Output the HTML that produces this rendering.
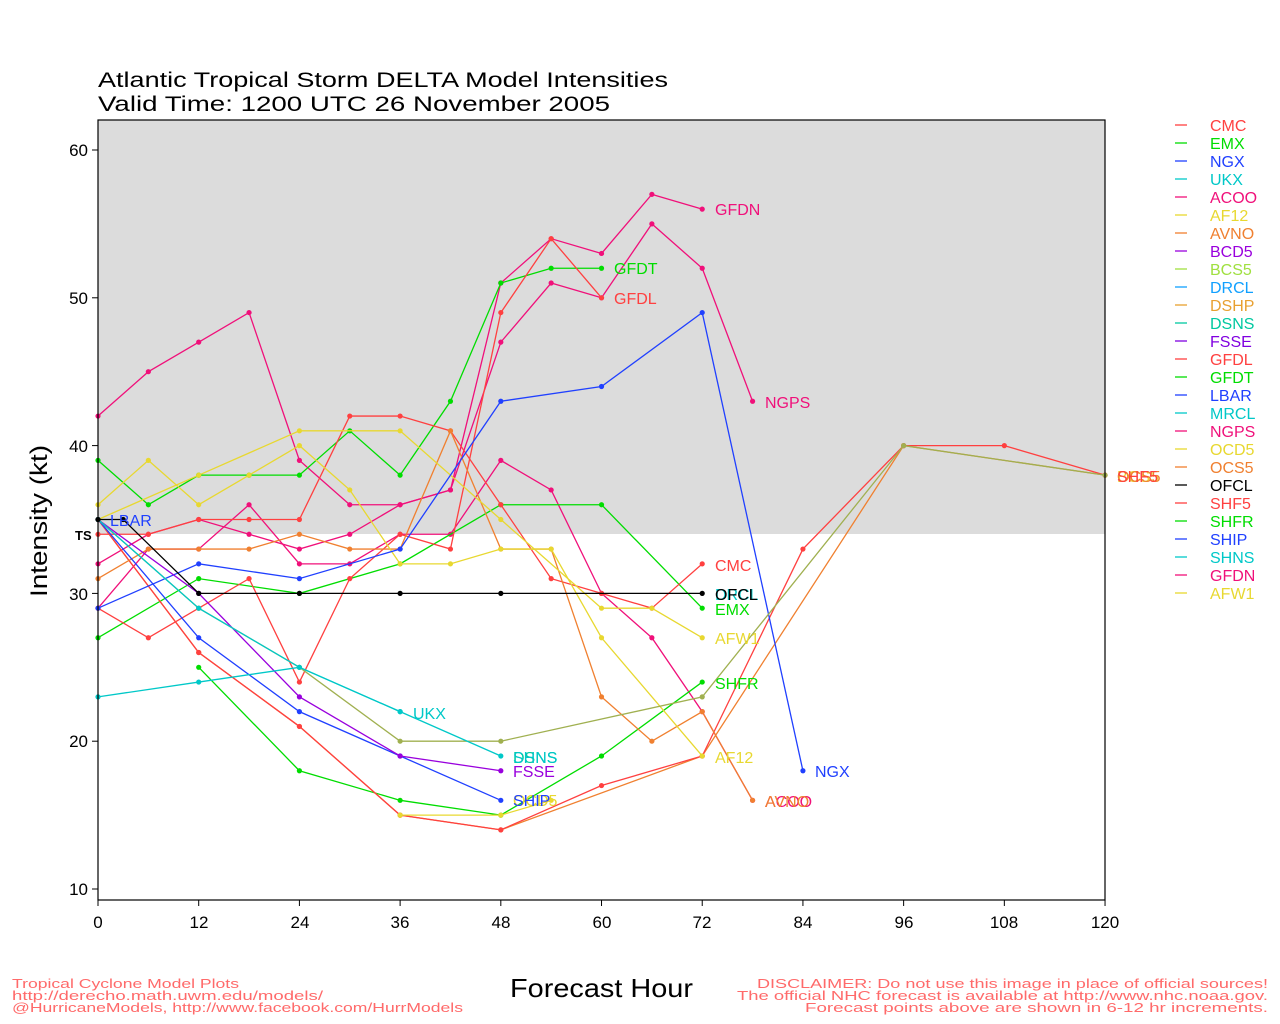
<!DOCTYPE html>
<html><head><meta charset="utf-8"><style>
html,body{margin:0;padding:0;background:#fff;}
svg{display:block;font-family:"Liberation Sans",sans-serif;}
</style></head><body>
<svg id="s" width="1280" height="1024" viewBox="0 0 1280 1024" xmlns="http://www.w3.org/2000/svg">
<rect width="1280" height="1024" fill="#fff"/>
<rect x="98" y="120" width="1007" height="414" fill="#dcdcdc"/>
<text x="98" y="87" font-size="21" fill="#000" textLength="570" lengthAdjust="spacingAndGlyphs">Atlantic Tropical Storm DELTA Model Intensities</text>
<text x="98" y="111" font-size="21" fill="#000" textLength="512" lengthAdjust="spacingAndGlyphs">Valid Time: 1200 UTC 26 November 2005</text>
<g id="ax" font-size="17" fill="#000">
<text x="88" y="156" text-anchor="end">60</text>
<text x="88" y="304" text-anchor="end">50</text>
<text x="88" y="452" text-anchor="end">40</text>
<text x="88" y="600" text-anchor="end">30</text>
<text x="88" y="747" text-anchor="end">20</text>
<text x="88" y="895" text-anchor="end">10</text>
<text x="75" y="540" font-size="13" font-weight="bold">TS</text>
<text x="98" y="928" text-anchor="middle">0</text>
<text x="199" y="928" text-anchor="middle">12</text>
<text x="300" y="928" text-anchor="middle">24</text>
<text x="400" y="928" text-anchor="middle">36</text>
<text x="501" y="928" text-anchor="middle">48</text>
<text x="602" y="928" text-anchor="middle">60</text>
<text x="702" y="928" text-anchor="middle">72</text>
<text x="803" y="928" text-anchor="middle">84</text>
<text x="904" y="928" text-anchor="middle">96</text>
<text x="1004" y="928" text-anchor="middle">108</text>
<text x="1105" y="928" text-anchor="middle">120</text>
</g>
<text x="510" y="997" font-size="26" textLength="183" lengthAdjust="spacingAndGlyphs">Forecast Hour</text>
<text transform="translate(47,597) rotate(-90)" font-size="24" textLength="152" lengthAdjust="spacingAndGlyphs">Intensity (kt)</text>
<g font-size="13" fill="#ff6a6a">
<text x="12" y="988" textLength="227" lengthAdjust="spacingAndGlyphs">Tropical Cyclone Model Plots</text>
<text x="12" y="1000" textLength="311" lengthAdjust="spacingAndGlyphs">http://derecho.math.uwm.edu/models/</text>
<text x="12" y="1012" textLength="451" lengthAdjust="spacingAndGlyphs">@HurricaneModels, http://www.facebook.com/HurrModels</text>
<text x="757" y="988" textLength="511" lengthAdjust="spacingAndGlyphs">DISCLAIMER: Do not use this image in place of official sources!</text>
<text x="737" y="1000" textLength="531" lengthAdjust="spacingAndGlyphs">The official NHC forecast is available at http://www.nhc.noaa.gov.</text>
<text x="805" y="1012" textLength="463" lengthAdjust="spacingAndGlyphs">Forecast points above are shown in 6-12 hr increments.</text>
</g>
<g id="lines"></g>
<rect x="98" y="120" width="1007" height="780" fill="none" stroke="#000" stroke-width="1.2"/>
<g id="yt" stroke="#000"></g>
<g font-size="16">
<text x="715" y="215" fill="#f0107a">GFDN</text>
<text x="614" y="274" fill="#00dd00">GFDT</text>
<text x="614" y="304" fill="#ff4040">GFDL</text>
<text x="765" y="408" fill="#f0107a">NGPS</text>
<text x="715" y="571" fill="#ff4040">CMC</text>
<text x="715" y="600" fill="#00c8c8">DRCL</text>
<text x="715" y="600" fill="#000">OFCL</text>
<text x="715" y="615" fill="#00dd00">EMX</text>
<text x="715" y="644" fill="#e8d830">AFW1</text>
<text x="715" y="689" fill="#00dd00">SHFR</text>
<text x="715" y="763" fill="#e8d830">AF12</text>
<text x="413" y="719" fill="#00c8c8">UKX</text>
<text x="513" y="763" fill="#00c8a0">DSNS</text>
<text x="513" y="763" fill="#00c8c8">SHNS</text>
<text x="513" y="777" fill="#9900dd">FSSE</text>
<text x="513" y="806" fill="#e8d830">OCD5</text>
<text x="513" y="806" fill="#2040ff">SHIP</text>
<text x="815" y="777" fill="#2040ff">NGX</text>
<text x="765" y="807" fill="#f0107a">ACOO</text>
<text x="765" y="807" fill="#f08030">AVNO</text>
<text x="1117" y="482" fill="#e8d830">BCS5</text>
<text x="1117" y="482" fill="#f08030">OCS5</text>
<text x="1117" y="482" fill="#ff4040">SHF5</text>
<text x="110" y="526" fill="#2040ff">LBAR</text>
</g>
<g id="leg" font-size="16">
<text x="1210" y="131" fill="#ff4040">CMC</text>
<text x="1210" y="149" fill="#00dd00">EMX</text>
<text x="1210" y="167" fill="#2040ff">NGX</text>
<text x="1210" y="185" fill="#00c8c8">UKX</text>
<text x="1210" y="203" fill="#f0107a">ACOO</text>
<text x="1210" y="221" fill="#e8d830">AF12</text>
<text x="1210" y="239" fill="#f08030">AVNO</text>
<text x="1210" y="257" fill="#9900dd">BCD5</text>
<text x="1210" y="275" fill="#a0e040">BCS5</text>
<text x="1210" y="293" fill="#10a0ff">DRCL</text>
<text x="1210" y="311" fill="#e8a030">DSHP</text>
<text x="1210" y="329" fill="#00c8a0">DSNS</text>
<text x="1210" y="347" fill="#8000e0">FSSE</text>
<text x="1210" y="365" fill="#ff4040">GFDL</text>
<text x="1210" y="383" fill="#00dd00">GFDT</text>
<text x="1210" y="401" fill="#2040ff">LBAR</text>
<text x="1210" y="419" fill="#00c8c8">MRCL</text>
<text x="1210" y="437" fill="#f0107a">NGPS</text>
<text x="1210" y="455" fill="#e8d830">OCD5</text>
<text x="1210" y="473" fill="#f08030">OCS5</text>
<text x="1210" y="491" fill="#000">OFCL</text>
<text x="1210" y="509" fill="#ff4040">SHF5</text>
<text x="1210" y="527" fill="#00dd00">SHFR</text>
<text x="1210" y="545" fill="#2040ff">SHIP</text>
<text x="1210" y="563" fill="#00c8c8">SHNS</text>
<text x="1210" y="581" fill="#f0107a">GFDN</text>
<text x="1210" y="599" fill="#e8d830">AFW1</text>
</g>
</svg>
<script>
var NS="http://www.w3.org/2000/svg";
function X(h){return 98+h*8.392;}
function Y(k){return 1036.8-14.78*k;}
var S=[
["#f0107a",[[0,42],[6,45],[12,47],[18,49],[24,39],[30,36],[36,36],[42,37],[48,51],[54,54],[60,53],[66,57],[72,56]]],
["#f0107a",[[0,32],[6,34],[12,35],[18,34],[24,33],[30,34],[36,36],[42,37],[48,47],[54,51],[60,50],[66,55],[72,52],[78,43]]],
["#f0107a",[[0,29],[6,33],[12,33],[18,36],[24,32],[30,32],[36,34],[42,34],[48,39],[54,37],[60,30],[66,27],[72,22],[78,16]]],
["#00dd00",[[0,39],[6,36],[12,38],[18,38],[24,38],[30,41],[36,38],[42,43],[48,51],[54,52],[60,52]]],
["#00dd00",[[0,27],[12,31],[24,30],[36,32],[48,36],[60,36],[72,29]]],
["#00dd00",[[12,25],[24,18],[36,16],[48,15],[60,19],[72,24]]],
["#ff4040",[[0,34],[6,34],[12,35],[18,35],[24,35],[30,42],[36,42],[42,41],[48,36],[54,31],[60,30],[66,29],[72,32]]],
["#ff4040",[[0,29],[6,27],[12,29],[18,31],[24,24],[30,31],[36,34],[42,33],[48,49],[54,54],[60,50]]],
["#f08030",[[0,35],[12,26],[24,21],[36,15],[48,14],[72,19],[96,40],[120,38]]],
["#ff4040",[[0,35],[12,26],[24,21],[36,15],[48,14],[60,17],[72,19],[84,33],[96,40],[108,40],[120,38]]],
["#f08030",[[0,31],[6,33],[12,33],[18,33],[24,34],[30,33],[36,33],[42,41],[48,33],[54,33],[60,23],[66,20],[72,22],[78,16]]],
["#e8d830",[[0,36],[6,39],[12,36],[18,38],[24,40],[30,37],[36,32],[42,32],[48,33],[54,33],[60,27],[72,19]]],
["#e8d830",[[0,35],[12,38],[24,41],[36,41],[48,35],[60,29],[66,29],[72,27]]],
["#e8d830",[[36,15],[48,15],[54,16]]],
["#2040ff",[[0,29],[12,32],[24,31],[36,33],[48,43],[60,44],[72,49],[84,18]]],
["#2040ff",[[0,35],[12,27],[24,22],[36,19],[48,16]]],
["#9900dd",[[0,35],[12,30],[24,23],[36,19],[48,18]]],
["#00c8c8",[[0,23],[12,24],[24,25],[36,22]]],
["#a0b050",[[0,35],[12,29],[24,25],[36,20],[48,20],[72,23],[96,40],[120,38]]],
["#00c8c8",[[0,35],[12,29],[24,25],[36,22],[48,19]]],
["#000000",[[0,35],[3,35],[12,30],[24,30],[36,30],[48,30],[72,30]]]
];
var g=document.getElementById("lines");
S.forEach(function(s){
 var pl=document.createElementNS(NS,"polyline");
 pl.setAttribute("points",s[1].map(function(p){return X(p[0])+","+Y(p[1]);}).join(" "));
 pl.setAttribute("fill","none");pl.setAttribute("stroke",s[0]);pl.setAttribute("stroke-width","1.3");
 g.appendChild(pl);
 s[1].forEach(function(p){var c=document.createElementNS(NS,"circle");c.setAttribute("cx",X(p[0]));c.setAttribute("cy",Y(p[1]));c.setAttribute("r","2.6");c.setAttribute("fill",s[0]);g.appendChild(c);});
});
var yt=document.getElementById("yt");
for(var k=10;k<=60;k+=10){var l=document.createElementNS(NS,"line");l.setAttribute("x1",92);l.setAttribute("x2",98);l.setAttribute("y1",Y(k));l.setAttribute("y2",Y(k));yt.appendChild(l);}
for(var h=0;h<=120;h+=12){var l=document.createElementNS(NS,"line");l.setAttribute("x1",X(h));l.setAttribute("x2",X(h));l.setAttribute("y1",900);l.setAttribute("y2",906);yt.appendChild(l);}
var cols=["#ff4040","#00dd00","#2040ff","#00c8c8","#f0107a","#e8d830","#f08030","#9900dd","#a0e040","#10a0ff","#e8a030","#00c8a0","#8000e0","#ff4040","#00dd00","#2040ff","#00c8c8","#f0107a","#e8d830","#f08030","#000","#ff4040","#00dd00","#2040ff","#00c8c8","#f0107a","#e8d830"];
var lg=document.getElementById("leg");
cols.forEach(function(c,i){var l=document.createElementNS(NS,"line");l.setAttribute("x1",1175);l.setAttribute("x2",1187);l.setAttribute("y1",125+18*i);l.setAttribute("y2",125+18*i);l.setAttribute("stroke",c);l.setAttribute("stroke-width","1.3");lg.appendChild(l);});
</script>
</body></html>
